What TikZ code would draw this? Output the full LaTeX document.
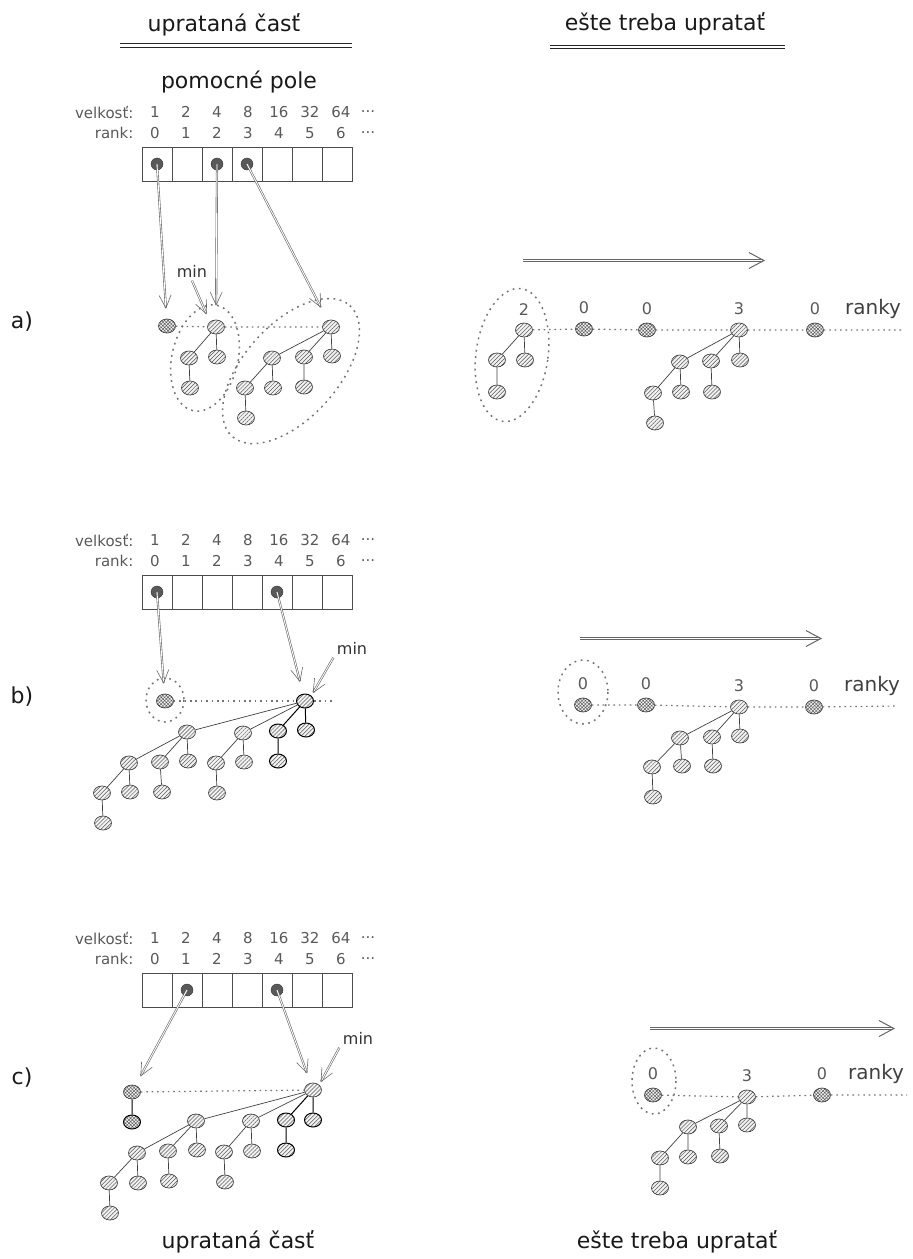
\documentclass[tikz,border=0pt]{standalone}
\usepackage{fontspec}
\setmainfont{DejaVu Sans}
\usetikzlibrary{positioning,shapes.geometric,patterns.meta,arrows.meta}

\tikzset{
  hn/.style={ellipse, draw=black!75, line width=0.7pt, minimum width=17pt,
    minimum height=14pt, inner sep=0pt, preaction={fill=black!5},
    pattern={Lines[angle=45,distance=2.8pt,line width=0.5pt]}, pattern color=black!65},
  xn/.style={hn, pattern={Hatch[angle=45,distance=2.4pt,line width=0.45pt]}},
  dn/.style={draw=black, line width=1pt},
  tl/.style={draw=black!75, line width=0.7pt},
  tld/.style={draw=black, line width=1pt},
  rl/.style={draw=black!55, line width=1.2pt, dash pattern=on 1.6pt off 3.8pt},
  obal/.style={draw=black!55, line width=1.5pt, dash pattern=on 1.8pt off 4.5pt},
  cell/.style={draw=black!70, line width=0.7pt, minimum width=30pt, minimum height=34pt, inner sep=0pt},
  ptdot/.style={circle, fill=black!65, draw=black!80, minimum size=12pt, inner sep=0pt},
  ptr/.style={draw=black!60, double=white, double distance=0.9pt, line width=0.6pt,
    -{Straight Barb[length=13pt,width=12pt]}},
  bigptr/.style={ptr, double distance=1pt, line width=1pt, -{Straight Barb[length=15pt,width=16pt]}},
  num/.style={font=\fontsize{15}{18}\selectfont, text=black!65},
  rk/.style={font=\fontsize{16}{19}\selectfont, text=black!65},
  rky/.style={font=\fontsize{20}{24}\selectfont, text=black!75},
  hd/.style={font=\fontsize{22}{26}\selectfont, text=black!90},
  mn/.style={font=\fontsize{16}{19}\selectfont, text=black!80},
  ul/.style={draw=black!85, line width=1.1pt, double=white, double distance=2.6pt},
}

\begin{document}
\begin{tikzpicture}[x=1pt, y=-1pt]
\useasboundingbox (0,0) rectangle (913,1259);

% nadpisy
\node[hd] (hL) at (224,25) {uprataná časť};
\node[hd] (hR) at (665,24) {ešte treba upratať};
\draw[ul] (120,45.5) -- (352,45.5);
\draw[ul] (550,47) -- (785,47);
\node[hd] (pole) at (239,82) {pomocné pole};

% pomocne pole pre a), b), c)
\foreach \s/\y in {a/112,b/540,c/938}{
  \node[num, anchor=east] at (137,\y) {velkosť:};
  \node[num, anchor=east] at (137,\y+21) {rank:};
  \foreach \v [count=\i from 0] in {1,2,4,8,16,32,64}{
    \node[num] at (155+31*\i,\y) {\v};
    \node[num] at (155+31*\i,\y+21) {\i};
    \node[cell] (\s\i) at (157+30*\i,\y+52) {};
  }
  \node[num] at (368,\y) {...};
  \node[num] at (368,\y+21) {...};
}

% ---------- a) ----------
\node[hd] (la) at (22,322) {a)};
\draw[obal, rotate around={-13:(205,358)}] (205,358) ellipse [x radius=33, y radius=54];
\draw[obal, rotate around={48:(291,371)}] (291,371) ellipse [x radius=88, y radius=47];
\node[xn] (aL0) at (167,326) {};
\node[hn] (aL2) at (216,327) {};
\node[hn] (aL2a) at (189,358) {};
\node[hn] (aL2b) at (217,357) {};
\node[hn] (aL2aa) at (190,388) {};
\node[hn] (aL3) at (331,327) {};
\node[hn] (aL3a) at (272,358) {};
\node[hn] (aL3b) at (304,357) {};
\node[hn] (aL3c) at (332,356) {};
\node[hn] (aL3aa) at (245,388) {};
\node[hn] (aL3ab) at (273,388) {};
\node[hn] (aL3ba) at (304,387) {};
\node[hn] (aL3aaa) at (246,418) {};
\draw[tl] (aL2) -- (aL2a) (aL2) -- (aL2b) (aL2a) -- (aL2aa);
\draw[tl] (aL3) -- (aL3a) (aL3) -- (aL3b) (aL3) -- (aL3c) (aL3a) -- (aL3aa)
  (aL3a) -- (aL3ab) (aL3b) -- (aL3ba) (aL3aa) -- (aL3aaa);
\draw[rl] (aL0) -- (aL2) (aL2) -- (aL3);

\node[ptdot] (ad0) at (a0) {};
\node[ptdot] (ad2) at (a2) {};
\node[ptdot] (ad3) at (a3) {};
\draw[ptr, shorten >=10pt] (ad0.center) -- (aL0);
\draw[ptr, shorten >=14pt] (ad2.center) -- (aL2);
\draw[ptr, shorten >=14pt] (ad3.center) -- (aL3);
\node[mn] (amin) at (192,271) {min};
\draw[ptr, shorten >=8pt] (amin.south) -- (aL2.north west);

% a) vpravo
\coordinate (aA1) at (523,260.5);
\coordinate (aA2) at (765,260.5);
\draw[bigptr] (aA1) -- (aA2);
\draw[obal, rotate around={-8:(512,355)}] (512,355) ellipse [x radius=36, y radius=67];
\node[hn] (aR2) at (524,330) {};
\node[hn] (aR2a) at (497,360) {};
\node[hn] (aR2b) at (525,360) {};
\node[hn] (aR2aa) at (497,392) {};
\node[xn] (aRx) at (584,329) {};
\node[xn] (aRy) at (647,330) {};
\node[hn] (aR3) at (739,330) {};
\node[hn] (aR3a) at (680,362) {};
\node[hn] (aR3b) at (711,361) {};
\node[hn] (aR3c) at (740,360) {};
\node[hn] (aR3aa) at (653,393) {};
\node[hn] (aR3ab) at (681,392) {};
\node[hn] (aR3ba) at (712,392) {};
\node[hn] (aR3aaa) at (655,423) {};
\node[xn] (aRz) at (815,330) {};
\coordinate (aRe) at (903,330);
\draw[tl] (aR2) -- (aR2a) (aR2) -- (aR2b) (aR2a) -- (aR2aa);
\draw[tl] (aR3) -- (aR3a) (aR3) -- (aR3b) (aR3) -- (aR3c) (aR3a) -- (aR3aa)
  (aR3a) -- (aR3ab) (aR3b) -- (aR3ba) (aR3aa) -- (aR3aaa);
\draw[rl] (aR2) -- (aRx) (aRx) -- (aRy) (aRy) -- (aR3) (aR3) -- (aRz) (aRz) -- (aRe);
\node[rk, above=4pt of aR2] (aRl2) {2};
\node[rk, above=4pt of aRx] (aRlx) {0};
\node[rk, above=4pt of aRy] (aRly) {0};
\node[rk, above=4pt of aR3] (aRl3) {3};
\node[rk, above=4pt of aRz] (aRlz) {0};
\node[rky, base right=18pt of aRlz] (aRk) {ranky};

% ---------- b) ----------
\node[hd] (lb) at (22,697) {b)};
\draw[obal] (165,700) ellipse [x radius=19, y radius=22];
\node[xn] (bL0) at (165,701) {};
\node[hn,dn] (bL4) at (305,701) {};
\node[hn] (bL4a) at (187,732) {};
\node[hn] (bL4b) at (243,733) {};
\node[hn,dn] (bL4c) at (278,731) {};
\node[hn,dn] (bL4d) at (306,730) {};
\node[hn] (bL4aa) at (129,763) {};
\node[hn] (bL4ab) at (160,762) {};
\node[hn] (bL4ac) at (188,761) {};
\node[hn] (bL4aaa) at (102,793) {};
\node[hn] (bL4aab) at (130,792) {};
\node[hn] (bL4aaaa) at (103,823) {};
\node[hn] (bL4aba) at (162,792) {};
\node[hn] (bL4ba) at (216,763) {};
\node[hn] (bL4bb) at (244,762) {};
\node[hn] (bL4baa) at (217,793) {};
\node[hn,dn] (bL4ca) at (278,761) {};
\coordinate (bLe) at (333,701);
\draw[tl] (bL4) -- (bL4a) (bL4) -- (bL4b) (bL4a) -- (bL4aa) (bL4a) -- (bL4ab)
  (bL4a) -- (bL4ac) (bL4aa) -- (bL4aaa) (bL4aa) -- (bL4aab) (bL4aaa) -- (bL4aaaa)
  (bL4ab) -- (bL4aba) (bL4b) -- (bL4ba) (bL4b) -- (bL4bb) (bL4ba) -- (bL4baa);
\draw[tld] (bL4) -- (bL4c) (bL4) -- (bL4d) (bL4c) -- (bL4ca);
\draw[rl] (bL0) -- (bL4) (bL4) -- (bLe);

\node[ptdot] (bd0) at (b0) {};
\node[ptdot] (bd4) at (b4) {};
\draw[ptr, shorten >=10pt] (bd0.center) -- (bL0);
\draw[ptr, shorten >=12pt] (bd4.center) -- (bL4);
\node[mn] (bmin) at (352,648) {min};
\draw[ptr, shorten >=3pt] (bmin.south west) -- (bL4.north east);

% b) vpravo
\coordinate (bA1) at (580,638.5);
\coordinate (bA2) at (822,638.5);
\draw[bigptr] (bA1) -- (bA2);
\draw[obal] (583,692) ellipse [x radius=25, y radius=32];
\node[xn] (bRx) at (583,705) {};
\node[xn] (bRy) at (646,705) {};
\node[hn] (bR3) at (739,707) {};
\node[hn] (bR3a) at (680,738) {};
\node[hn] (bR3b) at (712,737) {};
\node[hn] (bR3c) at (740,736) {};
\node[hn] (bR3aa) at (652,767) {};
\node[hn] (bR3ab) at (682,766) {};
\node[hn] (bR3ba) at (713,766) {};
\node[hn] (bR3aaa) at (653,797) {};
\node[xn] (bRz) at (814,707) {};
\coordinate (bRe) at (898,706);
\draw[tl] (bR3) -- (bR3a) (bR3) -- (bR3b) (bR3) -- (bR3c) (bR3a) -- (bR3aa)
  (bR3a) -- (bR3ab) (bR3b) -- (bR3ba) (bR3aa) -- (bR3aaa);
\draw[rl] (bRx) -- (bRy) (bRy) -- (bR3) (bR3) -- (bRz) (bRz) -- (bRe);
\node[rk, above=4pt of bRx] (bRlx) {0};
\node[rk, above=4pt of bRy] (bRly) {0};
\node[rk, above=4pt of bR3] (bRl3) {3};
\node[rk, above=4pt of bRz] (bRlz) {0};
\node[rky, base right=18pt of bRlz] (bRk) {ranky};

% ---------- c) ----------
\node[hd] (lc) at (22,1078) {c)};
\node[xn] (cL0) at (132,1092) {};
\node[xn,dn] (cL0a) at (132,1122) {};
\node[hn] (cL4) at (313,1090) {};
\node[hn] (cL4a) at (196,1121) {};
\node[hn] (cL4b) at (251,1121) {};
\node[hn,dn] (cL4c) at (286,1120) {};
\node[hn,dn] (cL4d) at (313,1120) {};
\node[hn] (cL4aa) at (137,1153) {};
\node[hn] (cL4ab) at (168,1151) {};
\node[hn] (cL4ac) at (197,1150) {};
\node[hn] (cL4aaa) at (109,1183) {};
\node[hn] (cL4aab) at (138,1183) {};
\node[hn] (cL4aaaa) at (110,1213) {};
\node[hn] (cL4aba) at (169,1181) {};
\node[hn] (cL4ba) at (224,1152) {};
\node[hn] (cL4bb) at (252,1151) {};
\node[hn] (cL4baa) at (225,1182) {};
\node[hn,dn] (cL4ca) at (286,1150) {};
\draw[tl] (cL4) -- (cL4a) (cL4) -- (cL4b) (cL4a) -- (cL4aa) (cL4a) -- (cL4ab)
  (cL4a) -- (cL4ac) (cL4aa) -- (cL4aaa) (cL4aa) -- (cL4aab) (cL4aaa) -- (cL4aaaa)
  (cL4ab) -- (cL4aba) (cL4b) -- (cL4ba) (cL4b) -- (cL4bb) (cL4ba) -- (cL4baa);
\draw[tld] (cL4) -- (cL4c) (cL4) -- (cL4d) (cL4c) -- (cL4ca) (cL0) -- (cL0a);
\draw[rl] (cL0) -- (cL4);

\node[ptdot] (cd1) at (c1) {};
\node[ptdot] (cd4) at (c4) {};
\draw[ptr, shorten >=10pt] (cd1.center) -- (cL0);
\draw[ptr, shorten >=10pt] (cd4.center) -- (cL4);
\node[mn] (cmin) at (358,1038) {min};
\draw[ptr, shorten >=3pt] (cmin.south west) -- (cL4.north east);

% c) vpravo
\coordinate (cA1) at (650,1028.5);
\coordinate (cA2) at (895,1028.5);
\draw[bigptr] (cA1) -- (cA2);
\draw[obal] (654,1081) ellipse [x radius=22, y radius=33];
\node[xn] (cRx) at (653,1095) {};
\node[hn] (cR3) at (747,1097) {};
\node[hn] (cR3a) at (688,1127) {};
\node[hn] (cR3b) at (719,1126) {};
\node[hn] (cR3c) at (747,1125) {};
\node[hn] (cR3aa) at (660,1158) {};
\node[hn] (cR3ab) at (688,1157) {};
\node[hn] (cR3ba) at (720,1156) {};
\node[hn] (cR3aaa) at (660,1188) {};
\node[xn] (cRz) at (822,1095) {};
\coordinate (cRe) at (907,1095);
\draw[tl] (cR3) -- (cR3a) (cR3) -- (cR3b) (cR3) -- (cR3c) (cR3a) -- (cR3aa)
  (cR3a) -- (cR3ab) (cR3b) -- (cR3ba) (cR3aa) -- (cR3aaa);
\draw[rl] (cRx) -- (cR3) (cR3) -- (cRz) (cRz) -- (cRe);
\node[rk, above=4pt of cRx] (cRlx) {0};
\node[rk, above=4pt of cR3] (cRl3) {3};
\node[rk, above=4pt of cRz] (cRlz) {0};
\node[rky, base right=14pt of cRlz] (cRk) {ranky};

% popisy dole
\node[hd] (fL) at (238,1242) {uprataná časť};
\node[hd] (fR) at (677,1242) {ešte treba upratať};
\end{tikzpicture}
\end{document}
